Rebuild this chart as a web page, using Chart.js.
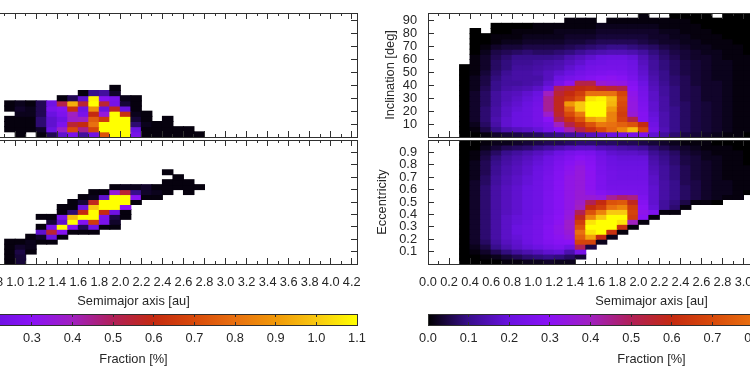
<!DOCTYPE html>
<html>
<head>
<meta charset="utf-8">
<style>
html,body{margin:0;padding:0;background:#fff;width:750px;height:375px;overflow:hidden}
canvas{position:absolute;display:block;filter:blur(0.45px)}
</style>
<script src="https://cdn.jsdelivr.net/npm/chart.js@4"></script>
</head>
<body>
<script>
const n = null;
// Cell values are hundredths of a percent; rows run from the top of each panel down.
const leftFirstColumn = 0.9;
const rightFirstColumn = 0.3;
const columnWidth = 0.1;
const inclinationBin = 4;
const eccentricityBin = 0.04;

const leftInclination = [
 [n,n,n,n,n,n,n,n,n,n,1,n,n,n,n,n,n,n,n],
 [n,n,n,n,n,n,n,1,10,12,3,n,n,n,n,n,n,n,n],
 [n,n,n,n,n,1,6,18,108,28,25,2,1,n,n,n,n,n,n],
 [1,2,1,6,22,52,95,55,110,55,24,4,1,n,n,n,n,n,n],
 [1,3,2,6,25,28,62,22,88,20,58,20,1,n,n,n,n,n,n],
 [n,2,2,6,20,26,40,25,60,35,110,62,2,1,n,n,n,n,n],
 [1,1,1,8,18,22,38,40,75,65,110,110,4,1,n,1,n,n,n],
 [1,1,1,8,18,26,55,60,80,110,110,110,8,2,1,1,n,n,n],
 [1,1,1,3,20,38,70,45,68,110,110,110,20,1,1,1,1,1,n],
 [n,1,n,1,6,18,25,12,22,72,110,110,24,1,1,1,1,1,1]
];
const leftEccentricity = [
 [n,n,n,n,n,n,n,n,n,n,n,n,n,n,n,1,n,n,n],
 [n,n,n,n,n,n,n,n,n,n,n,n,n,n,n,n,1,n,n],
 [n,n,n,n,n,n,n,n,n,n,n,n,n,n,n,1,1,1,n],
 [n,n,n,n,n,n,n,n,n,n,1,2,2,3,1,1,1,1,1],
 [n,n,n,n,n,n,n,n,1,1,35,55,10,3,2,1,n,1,n],
 [n,n,n,n,n,n,n,1,2,18,110,110,30,1,1,n,n,n,n],
 [n,n,n,n,n,n,1,4,58,110,110,110,1,n,n,n,n,n,n],
 [n,n,n,n,n,1,1,20,100,110,110,30,n,n,n,n,n,n,n],
 [n,n,n,n,n,1,8,60,110,60,22,1,n,n,n,n,n,n,n],
 [n,n,n,1,1,25,98,110,110,25,5,1,n,n,n,n,n,n,n],
 [n,n,n,n,4,18,110,28,65,25,3,n,n,n,n,n,n,n,n],
 [n,n,n,1,25,110,28,6,22,1,1,n,n,n,n,n,n,n,n],
 [n,n,n,18,55,28,1,1,1,n,n,n,n,n,n,n,n,n,n],
 [n,n,1,3,20,1,n,n,n,n,n,n,n,n,n,n,n,n,n],
 [1,1,2,1,1,n,n,n,n,n,n,n,n,n,n,n,n,n,n],
 [1,3,2,n,n,n,n,n,n,n,n,n,n,n,n,n,n,n,n],
 [1,5,1,n,n,n,n,n,n,n,n,n,n,n,n,n,n,n,n],
 [1,4,n,n,n,n,n,n,n,n,n,n,n,n,n,n,n,n,n],
 [1,4,n,n,n,n,n,n,n,n,n,n,n,n,n,n,n,n,n]
];
const rightInclination = [
 [n,n,n,n,n,n,n,n,n,n,n,n,n,n,n,n,n,1,n,n,0,0,0,0,n,0,0,0],
 [n,n,n,n,n,n,n,n,n,n,1,1,1,n,1,1,1,1,1,1,1,1,0,0,0,0,0,0],
 [n,n,n,0,0,0,0,1,1,1,1,1,1,2,2,2,2,2,2,1,1,1,1,0,0,0,0,0],
 [n,0,n,0,0,1,1,1,1,2,2,2,2,3,3,3,3,3,3,2,2,1,1,1,0,0,0,0],
 [n,0,0,1,1,1,2,2,2,2,3,3,3,4,4,4,4,4,3,3,2,2,1,1,1,0,0,0],
 [n,0,0,1,2,2,3,3,3,3,4,4,5,6,6,6,6,5,4,3,3,2,2,1,1,1,0,0],
 [n,0,1,3,4,4,5,5,5,5,6,7,8,9,10,10,9,8,7,5,4,3,2,2,1,1,1,0],
 [n,0,2,5,6,7,8,7,7,8,9,11,13,14,15,15,14,12,9,7,5,4,3,2,2,1,1,0],
 [n,1,3,6,8,10,10,10,10,11,14,16,18,20,21,21,19,15,11,8,6,4,3,3,2,1,1,1],
 [n,1,3,7,9,11,11,12,13,14,16,18,21,22,23,23,21,16,12,9,7,5,4,3,2,2,1,1],
 [0,1,3,7,9,12,12,13,14,15,18,20,23,24,24,24,22,17,12,9,7,5,4,3,2,2,1,1],
 [0,1,4,8,11,13,13,14,16,18,20,23,25,26,27,26,23,18,13,10,7,5,4,3,2,2,1,1],
 [0,2,5,9,12,13,13,13,16,21,24,26,28,30,31,29,25,19,14,10,8,6,4,3,2,2,1,1],
 [0,2,5,10,12,12,13,14,18,24,31,52,52,36,34,33,28,21,15,11,8,6,4,3,3,2,1,1],
 [0,2,6,10,13,14,15,17,22,50,55,60,62,58,55,52,30,23,16,12,9,6,5,3,3,2,1,1],
 [0,3,7,12,15,16,18,20,40,55,60,66,80,80,80,68,32,24,17,12,9,6,5,3,3,2,1,1],
 [0,3,7,12,15,17,19,22,44,58,64,72,105,108,98,72,33,25,17,13,9,6,5,3,3,2,1,1],
 [0,3,7,12,16,18,20,23,44,58,90,100,110,110,96,70,34,26,18,13,9,7,5,4,3,2,1,1],
 [0,3,8,13,17,19,21,24,44,58,78,100,110,110,90,68,34,27,18,13,10,7,5,4,3,2,1,1],
 [0,3,8,13,17,20,21,24,38,56,70,82,110,110,84,66,36,28,19,14,10,7,5,4,3,2,1,1],
 [0,3,8,14,18,20,21,24,30,50,62,72,92,96,84,68,52,28,20,14,10,7,5,4,3,2,1,1],
 [0,2,7,13,18,20,21,23,26,40,52,62,72,82,80,76,72,60,22,14,10,7,5,4,3,2,1,1],
 [0,1,5,10,14,16,17,19,24,30,42,52,62,70,78,86,98,70,24,15,10,7,5,4,3,2,1,1],
 [0,0,1,3,4,5,6,7,9,10,12,14,16,18,20,22,24,26,18,12,8,5,4,3,2,1,1,0]
];
const rightEccentricity = [
 [0,0,1,2,2,3,4,5,6,6,7,8,8,7,7,6,6,5,4,3,2,1,1,1,0,0,0,0],
 [0,0,2,4,6,7,8,10,12,14,16,17,17,15,14,13,12,11,8,6,4,3,2,1,1,1,0,0],
 [0,1,4,7,10,12,14,16,18,21,24,26,25,21,18,17,17,16,11,9,7,4,3,2,1,1,1,0],
 [0,1,5,9,12,14,16,18,21,24,27,30,28,23,20,19,19,19,13,10,8,5,4,2,2,1,1,0],
 [0,2,6,10,13,15,17,19,22,26,29,32,29,24,21,20,20,20,14,11,8,5,4,3,2,1,1,0],
 [0,2,6,11,14,16,18,20,23,27,31,34,30,25,22,21,21,21,15,12,9,6,4,3,2,1,1,1],
 [0,2,6,11,14,16,18,21,24,28,32,35,31,25,23,22,22,22,16,12,9,6,4,3,2,1,1,1],
 [0,2,7,12,15,17,19,21,25,28,33,35,31,26,23,22,22,22,17,12,9,6,4,3,2,1,1,1],
 [0,3,7,12,15,17,19,22,25,29,33,35,31,26,23,23,23,23,17,13,10,6,5,3,2,2,1,1],
 [0,3,8,13,16,18,20,22,25,29,33,35,31,26,24,24,24,24,18,13,10,7,5,3,2,2,1,1],
 [0,3,8,13,16,18,20,22,26,29,33,36,32,28,26,25,25,24,18,13,10,7,5,3,2,2,1,0],
 [0,3,8,13,16,18,20,22,26,29,33,36,36,34,44,48,46,26,18,13,10,7,5,3,2,1,1,n],
 [0,3,8,13,16,18,20,22,26,29,33,38,50,60,72,74,58,28,18,12,9,5,1,1,0,n,n,n],
 [0,3,8,13,16,18,20,22,26,29,33,40,60,66,80,85,66,30,19,12,8,1,n,n,n,n,n,n],
 [0,3,8,13,16,18,20,22,26,29,34,50,72,85,100,100,68,32,26,1,1,n,n,n,n,n,n,n],
 [0,3,8,13,17,19,20,23,27,30,35,58,85,100,110,110,66,30,1,n,n,n,n,n,n,n,n,n],
 [0,3,8,13,17,19,21,24,27,31,38,66,105,110,110,105,40,1,n,n,n,n,n,n,n,n,n,n],
 [0,3,8,13,17,20,22,24,28,32,38,72,110,110,110,62,1,n,n,n,n,n,n,n,n,n,n,n],
 [0,3,8,13,17,20,22,24,28,32,36,80,105,110,62,1,n,n,n,n,n,n,n,n,n,n,n,n],
 [0,3,8,13,17,19,22,24,28,31,34,75,92,60,2,n,n,n,n,n,n,n,n,n,n,n,n,n],
 [0,3,7,12,16,18,21,24,27,29,30,68,68,2,n,n,n,n,n,n,n,n,n,n,n,n,n,n],
 [0,2,5,10,14,17,19,21,24,26,22,50,5,n,n,n,n,n,n,n,n,n,n,n,n,n,n,n],
 [0,1,3,6,9,12,14,16,18,19,14,24,n,n,n,n,n,n,n,n,n,n,n,n,n,n,n,n],
 [0,0,1,2,4,6,8,9,10,9,7,4,n,n,n,n,n,n,n,n,n,n,n,n,n,n,n,n],
 [0,0,0,0,1,1,2,2,3,2,2,n,n,n,n,n,n,n,n,n,n,n,n,n,n,n,n,n]
];

const paletteValues = [0,0.1,0.2,0.3,0.4,0.5,0.6,0.7,0.8,0.9,1.0,1.1];
const paletteColors = [[0,0,0],[56,14,140],[106,18,224],[138,18,245],[160,32,192],[176,32,88],[196,42,16],[216,74,10],[232,112,16],[240,152,8],[248,200,16],[255,255,0]];

const axisTitleX = "Semimajor axis [au]";
const axisTitleInclination = "Inclination [deg]";
const axisTitleEccentricity = "Eccentricity";
const axisTitleFraction = "Fraction [%]";
const semimajorRange = [0, 4.25];
const inclinationRange = [0, 96];
const eccentricityRange = [0, 1];
const fractionRange = [0, 1.1];

Chart.defaults.font.family = "'Liberation Sans', Arial, sans-serif";
Chart.defaults.font.size = 12.8;
Chart.defaults.color = "#262626";
const FRAME = "#303030";

function cellColor(h){
  const v = h / 100;
  let i = 0;
  while (i < paletteValues.length - 2 && v > paletteValues[i+1]) i++;
  const t = Math.min(1, Math.max(0, (v - paletteValues[i]) / (paletteValues[i+1] - paletteValues[i])));
  const c = paletteColors[i].map((p, k) => Math.round(p + (paletteColors[i+1][k] - p) * t));
  return `rgb(${c[0]},${c[1]},${c[2]})`;
}
function rowsToDatasets(grid, firstColumn, bin){
  return grid.map((row, idx) => {
    const r = grid.length - 1 - idx;
    const data = [], colors = [];
    row.forEach((v, c) => {
      if (v === null) return;
      data.push({x: firstColumn + columnWidth * (c + 0.5), y: [r * bin, (r + 1) * bin]});
      colors.push(cellColor(v));
    });
    return {data, backgroundColor: colors, borderWidth: 0, grouped: false, inflateAmount: 0.5,
            categoryPercentage: 1, barPercentage: 1};
  });
}
function makeCanvas(left, top, w, h){
  const c = document.createElement("canvas");
  c.width = w; c.height = h;
  c.style.left = left + "px"; c.style.top = top + "px";
  c.style.width = w + "px"; c.style.height = h + "px";
  document.body.appendChild(c);
  return c;
}
const fixedH = h => s => { s.height = h; };
const fixedW = w => s => { s.width = w; };
function tickAxis(axis, position, range, step, len, fit, extra){
  return Object.assign({
    type: "linear", axis, position, min: range[0], max: range[1], offset: false, weight: 0,
    border: {display: true, color: FRAME, width: 1, z: 2},
    grid: {display: true, drawOnChartArea: false, drawTicks: true, tickLength: -len, tickColor: FRAME, tickWidth: 1, offset: false, z: 2},
    ticks: {display: false, stepSize: step, autoSkip: false, includeBounds: false},
    afterFit: fit
  }, extra || {});
}
function panel(cfg){
  const {L, R, T, B, mL, mB} = cfg;
  const padT = 40, padR = 40;
  const c = makeCanvas(L - mL, T - padT, Math.ceil(R - L) + mL + padR, (B - T) + padT + mB);
  const yFmt = cfg.yFmt;
  const scales = {
    x: tickAxis("x", "bottom", semimajorRange, 0.2, 6, fixedH(mB), {
      weight: 1,
      ticks: {display: !!cfg.xLabels, stepSize: 0.2, autoSkip: false, includeBounds: false, maxRotation: 0, minRotation: 0,
              padding: 17, callback: v => Number(v).toFixed(1)},
      title: {display: !!cfg.xLabels, text: axisTitleX, padding: {top: 0, bottom: 5}, color: "#262626", font: {size: 12.8}}
    }),
    xMinor: tickAxis("x", "bottom", semimajorRange, 0.1, 3, fixedH(0)),
    xTop: tickAxis("x", "top", semimajorRange, 0.2, 6, fixedH(0)),
    xTopMinor: tickAxis("x", "top", semimajorRange, 0.1, 3, fixedH(0)),
    y: tickAxis("y", "left", cfg.yRange, cfg.yStep, 6, fixedW(mL), {
      ticks: {display: !!cfg.yTitle, stepSize: cfg.yStep, autoSkip: false, includeBounds: false, padding: 17, callback: yFmt},
      title: {display: !!cfg.yTitle, text: cfg.yTitle, padding: {top: cfg.yTitlePad || 0, bottom: 0}, color: "#262626", font: {size: 12.8}}
    }),
    yRight: tickAxis("y", "right", cfg.yRange, cfg.yStep, 6, fixedW(0))
  };
  new Chart(c, {
    type: "bar",
    data: {datasets: rowsToDatasets(cfg.grid, cfg.firstColumn, cfg.bin)},
    options: {
      responsive: false, animation: false, events: [],
      layout: {padding: {top: padT, right: padR, left: 0, bottom: 0}},
      plugins: {legend: {display: false}, tooltip: {enabled: false}},
      scales
    }
  });
}
function colorBar(L, R, T, B){
  const mL = 40, mB = 46, padT = 30, padR = 40;
  const c = makeCanvas(L - mL, T - padT, Math.ceil(R - L) + mL + padR, (B - T) + padT + mB);
  const fill = ctx => {
    const a = ctx.chart.chartArea;
    if (!a) return "#000";
    const g = ctx.chart.ctx.createLinearGradient(a.left, 0, a.right, 0);
    paletteValues.forEach((v, i) => g.addColorStop(v / fractionRange[1], `rgb(${paletteColors[i].join(",")})`));
    return g;
  };
  new Chart(c, {
    type: "bar",
    data: {labels: [axisTitleFraction], datasets: [{data: [fractionRange], backgroundColor: fill, borderWidth: 0, categoryPercentage: 1, barPercentage: 1}]},
    options: {
      indexAxis: "y", responsive: false, animation: false, events: [],
      layout: {padding: {top: padT, right: padR}},
      plugins: {legend: {display: false}, tooltip: {enabled: false}},
      scales: {
        x: tickAxis("x", "bottom", fractionRange, 0.1, 3, fixedH(mB), {
          weight: 1,
          ticks: {display: true, stepSize: 0.1, autoSkip: false, includeBounds: false, maxRotation: 0, padding: 8.5, callback: v => Number(v).toFixed(1)},
          title: {display: true, text: axisTitleFraction, padding: {top: 0, bottom: 4}, color: "#262626", font: {size: 12.8}}
        }),
        xTop: tickAxis("x", "top", fractionRange, 0.1, 3, fixedH(0)),
        y: {type: "category", position: "left", offset: true, afterFit: fixedW(mL),
            border: {display: true, color: FRAME, z: 2}, grid: {display: false}, ticks: {display: false}},
        yRight: {type: "category", axis: "y", position: "right", labels: [axisTitleFraction], offset: true, afterFit: fixedW(0),
            border: {display: true, color: FRAME, z: 2}, grid: {display: false}, ticks: {display: false}}
      }
    }
  });
}

const LEFT = {L: -90, R: 356.25};
const RIGHT = {L: 428, R: 874.25};
const TOP = {T: 12.5, B: 136.5};
const BOT = {T: 139.5, B: 263.5};
const incFmt = v => (v === 0 ? "" : String(v));
const eccFmt = v => (v === 0 || v === 1 ? "" : Number(v).toFixed(1));

panel({...LEFT, ...TOP, mL: 55, mB: 40, grid: leftInclination, firstColumn: leftFirstColumn, bin: inclinationBin, yRange: inclinationRange, yStep: 10, yFmt: incFmt});
panel({...LEFT, ...BOT, mL: 55, mB: 50, xLabels: true, grid: leftEccentricity, firstColumn: leftFirstColumn, bin: eccentricityBin, yRange: eccentricityRange, yStep: 0.1, yFmt: eccFmt});
panel({...RIGHT, ...TOP, mL: 55, mB: 40, grid: rightInclination, firstColumn: rightFirstColumn, bin: inclinationBin, yRange: inclinationRange, yStep: 10, yFmt: incFmt, yTitle: axisTitleInclination, yTitlePad: 10});
panel({...RIGHT, ...BOT, mL: 55, mB: 50, xLabels: true, grid: rightEccentricity, firstColumn: rightFirstColumn, bin: eccentricityBin, yRange: eccentricityRange, yStep: 0.1, yFmt: eccFmt, yTitle: axisTitleEccentricity, yTitlePad: 1.5});
colorBar(LEFT.L, LEFT.R, 313.5, 324.5);
colorBar(RIGHT.L, RIGHT.R, 313.5, 324.5);
</script>
</body>
</html>
